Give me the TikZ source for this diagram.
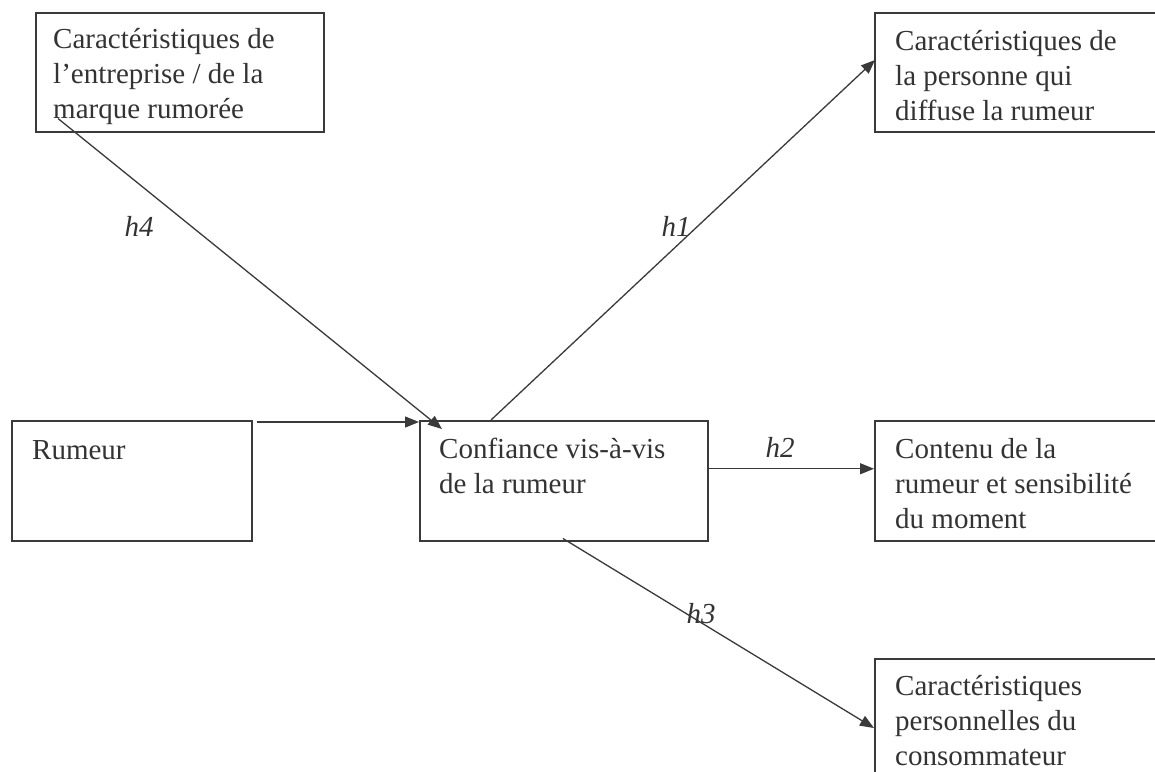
\documentclass[tikz,border=0pt]{standalone}
\usepackage{fontspec}
\setmainfont{Liberation Serif}
\usetikzlibrary{arrows.meta,calc}
\definecolor{ln}{HTML}{3A3A3A}
\definecolor{tx}{HTML}{333333}
\tikzset{
  boxnode/.style={draw=ln, line width=1.5pt, rectangle, inner sep=0pt, anchor=north west},
  boxtext/.style={anchor=north west, inner sep=0pt, align=left, text=tx,
    font=\fontsize{29}{35}\selectfont},
  conn/.style={draw=ln, line width=1.3pt, -{Triangle[length=14pt,width=11pt]}},
  hlabel/.style={text=tx, inner sep=0pt, font=\fontsize{29}{35}\selectfont\itshape}
}
\begin{document}
\begin{tikzpicture}[x=1pt,y=-1pt]
\useasboundingbox (0,0) rectangle (1155,771);
\clip (0,0) rectangle (1155,771);
\fill[white] (0,0) rectangle (1155,771);
% boxes
\node[boxnode, minimum width=288pt, minimum height=119pt] (A) at (35,12) {};
\node[boxnode, minimum width=300pt, minimum height=119pt] (B) at (874,12) {};
\node[boxnode, minimum width=240pt, minimum height=120pt] (R) at (11,420) {};
\node[boxnode, minimum width=288pt, minimum height=120pt] (C) at (419,420) {};
\node[boxnode, minimum width=300pt, minimum height=120pt] (D) at (874,420) {};
\node[boxnode, minimum width=300pt, minimum height=140pt] (E) at (874,658) {};
% texts
\node[boxtext] (At) at (53,23.5) {\strut Caractéristiques de\\l’entreprise / de la\\marque rumorée};
\node[boxtext] (Bt) at (895,25.5) {\strut Caractéristiques de\\la personne qui\\diffuse la rumeur};
\node[boxtext] (Rt) at (32,434.5) {\strut Rumeur};
\node[boxtext] (Ct) at (439,433.5) {\strut Confiance vis-à-vis\\de la rumeur};
\node[boxtext] (Dt) at (895,433.5) {\strut Contenu de la\\rumeur et sensibilité\\du moment};
\node[boxtext] (Et) at (895,670.5) {\strut Caractéristiques\\personnelles du\\consommateur};
% connectors
\draw[conn] ($(R.north east)+(4,2)$) -- ($(C.north west)+(0,2)$);
\draw[conn] ($(A.south west)+(23,-14)$) -- ($(C.north west)+(23,9)$);
\draw[conn] ($(C.north west)+(72,0)$) -- ($(B.north west)+(1,48)$);
\draw[conn] ($(C.east)+(0,-12)$) -- ($(D.west)+(0,-12)$);
\draw[conn] ($(C.south west)+(144,-3)$) -- ($(E.north west)+(0,70)$);
% labels
\node[hlabel] (h4) at (139,226) {h4};
\node[hlabel] (h1) at (676,226) {h1};
\node[hlabel] (h2) at (780,447) {h2};
\node[hlabel] (h3) at (701,614) {h3};
\end{tikzpicture}
\end{document}
